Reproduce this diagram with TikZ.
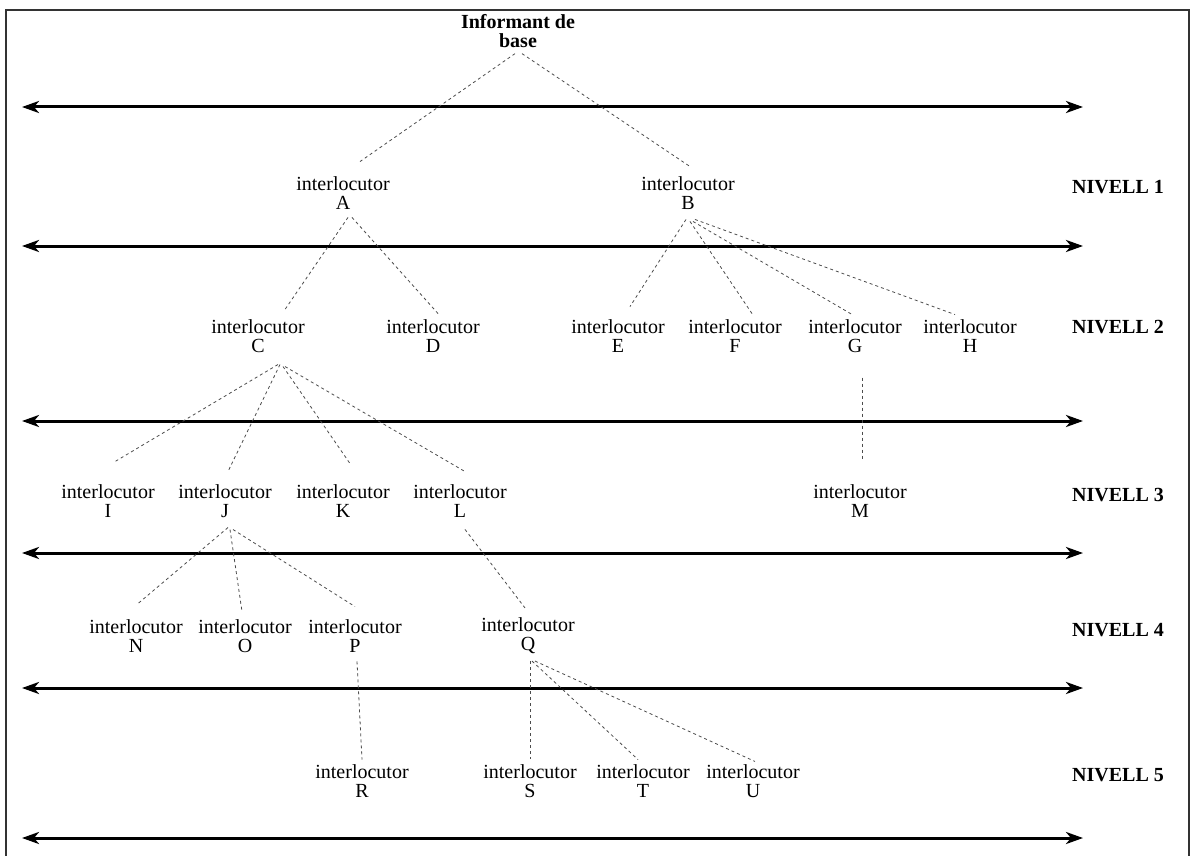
\documentclass[tikz,border=0pt]{standalone}
\usepackage{fontspec}
\setmainfont{Liberation Serif}
\usetikzlibrary{arrows.meta,calc}
\begin{document}
\begin{tikzpicture}[x=1pt,y=-1pt,
  every node/.style={inner sep=0pt,outer sep=0pt},
  person/.style={align=center,font=\fontsize{20}{19}\selectfont},
  levelname/.style={font=\fontsize{20}{18}\selectfont\bfseries},
  levelline/.style={line width=3pt,{Stealth[length=17pt,width=12pt,inset=5pt]}-{Stealth[length=17pt,width=12pt,inset=5pt]}},
  conn/.style={line width=0.8pt,black!70,dash pattern=on 3pt off 3pt},
  frameline/.style={line width=1.1pt,black!80}]
\useasboundingbox (0,0) rectangle (1194,856);
\draw[frameline] (6,856) -- (6,10) -- (1189,10) -- (1189,856);

% level lines
\coordinate (l0a) at (22,107);  \coordinate (l0b) at (1083,107);
\coordinate (l1a) at (22,246);  \coordinate (l1b) at (1083,246);
\coordinate (l2a) at (22,421);  \coordinate (l2b) at (1083,421);
\coordinate (l3a) at (22,553);  \coordinate (l3b) at (1083,553);
\coordinate (l4a) at (22,688);  \coordinate (l4b) at (1083,688);
\coordinate (l5a) at (22,838);  \coordinate (l5b) at (1083,838);
\foreach \i in {0,...,5} {\draw[levelline] (l\i a) -- (l\i b);}

% root
\node[person,font=\fontsize{20}{19}\selectfont\bfseries] (inf) at (518,31) {Informant de\\base};

% level names
\node[levelname] (n1) at (1118,187) {NIVELL 1};
\node[levelname] (n2) at (1118,327) {NIVELL 2};
\node[levelname] (n3) at (1118,495) {NIVELL 3};
\node[levelname] (n4) at (1118,630) {NIVELL 4};
\node[levelname] (n5) at (1118,775) {NIVELL 5};

% level 1
\node[person] (A) at (343,193) {interlocutor\\A};
\node[person] (B) at (688,193) {interlocutor\\B};
% level 2
\node[person] (C) at (258,336) {interlocutor\\C};
\node[person] (D) at (433,336) {interlocutor\\D};
\node[person] (E) at (618,336) {interlocutor\\E};
\node[person] (F) at (735,336) {interlocutor\\F};
\node[person] (G) at (855,336) {interlocutor\\G};
\node[person] (H) at (970,336) {interlocutor\\H};
% level 3
\node[person] (I) at (108,501) {interlocutor\\I};
\node[person] (J) at (225,501) {interlocutor\\J};
\node[person] (K) at (343,501) {interlocutor\\K};
\node[person] (L) at (460,501) {interlocutor\\L};
\node[person] (M) at (860,501) {interlocutor\\M};
% level 4
\node[person] (N) at (136,636) {interlocutor\\N};
\node[person] (O) at (245,636) {interlocutor\\O};
\node[person] (P) at (355,636) {interlocutor\\P};
\node[person] (Q) at (528,636) {interlocutor\\Q};
% level 5
\node[person] (R) at (362,781) {interlocutor\\R};
\node[person] (S) at (530,781) {interlocutor\\S};
\node[person] (T) at (643,781) {interlocutor\\T};
\node[person] (U) at (753,781) {interlocutor\\U};

% connectors
\draw[conn] ($(inf.south)+(-3,6)$) -- ($(A.north)+(17,-15)$);
\draw[conn] ($(inf.south)+(4,6)$) -- ($(B.north)+(2,-10)$);
\draw[conn] ($(A.south)+(5,8)$) -- ($(C.north)+(27,-10)$);
\draw[conn] ($(A.south)+(9,8)$) -- ($(D.north)+(5,-6)$);
\draw[conn] ($(B.south)+(-2,10)$) -- ($(E.north)+(12,-13)$);
\draw[conn] ($(B.south)+(2,12)$) -- ($(F.north)+(17,-6)$);
\draw[conn] ($(B.south)+(5,12)$) -- ($(G.north)+(-3,-5)$);
\draw[conn] ($(B.south)+(7,10)$) -- ($(H.north)+(-15,-5)$);
\draw[conn] ($(C.south)+(20,12)$) -- ($(I.north)+(7,-23)$);
\draw[conn] ($(C.south)+(22,12)$) -- ($(J.north)+(3,-13)$);
\draw[conn] ($(C.south)+(25,14)$) -- ($(K.north)+(7,-21)$);
\draw[conn] ($(C.south)+(27,14)$) -- ($(L.north)+(5,-13)$);
\draw[conn] ($(G.south)+(7,25)$) -- ($(M.north)+(2,-25)$);
\draw[conn] ($(J.south)+(3,10)$) -- ($(N.north)+(2,-16)$);
\draw[conn] ($(J.south)+(5,12)$) -- ($(O.north)+(-3,-8)$);
\draw[conn] ($(J.south)+(8,12)$) -- ($(P.north)+(0,-13)$);
\draw[conn] ($(L.south)+(5,12)$) -- ($(Q.north)+(-3,-10)$);
\draw[conn] ($(P.south)+(2,9)$) -- ($(R.north)+(0,-5)$);
\draw[conn] ($(Q.south)+(2,7)$) -- ($(S.north)+(0,-5)$);
\draw[conn] ($(Q.south)+(4,7)$) -- ($(T.north)+(-5,-5)$);
\draw[conn] ($(Q.south)+(7,7)$) -- ($(U.north)+(2,-3)$);
\end{tikzpicture}
\end{document}
